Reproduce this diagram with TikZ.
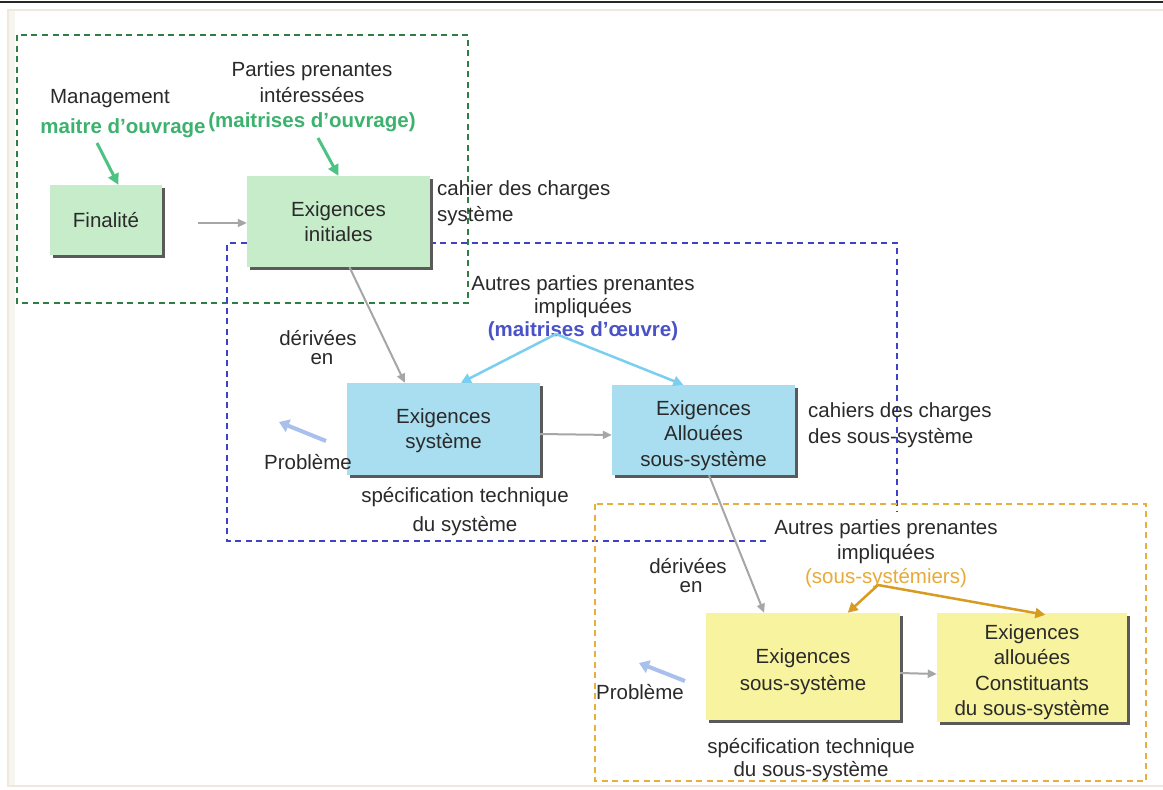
\documentclass[tikz,border=0pt]{standalone}
\usepackage{fontspec}
\setmainfont{Liberation Sans}
\usetikzlibrary{arrows.meta,calc,shadows}

\definecolor{framebeige}{HTML}{EEE9DC}
\definecolor{panelside}{HTML}{F7F5F0}
\definecolor{zonegreen}{HTML}{2F7F45}
\definecolor{zoneblue}{HTML}{3C44C4}
\definecolor{zoneyellow}{HTML}{E6B040}
\definecolor{txtgreen}{HTML}{3DB26E}
\definecolor{arrgreen}{HTML}{4CC283}
\definecolor{txtblue}{HTML}{4A52C8}
\definecolor{arrcyan}{HTML}{7ACFF0}
\definecolor{txtorange}{HTML}{E8AA38}
\definecolor{arrorange}{HTML}{D99A22}
\definecolor{fillgreen}{HTML}{C6ECCA}
\definecolor{fillblue}{HTML}{A8DEF0}
\definecolor{fillyellow}{HTML}{F8F39E}
\definecolor{arrgray}{HTML}{A6A6A6}
\definecolor{arrprob}{HTML}{A9BFEC}
\definecolor{txtdark}{HTML}{2A2A2A}
\definecolor{shadowgray}{HTML}{5A5A5A}

\newcommand\lblfont{\fontsize{20.5}{25.5}\selectfont}
% extra room above the first line of a box text
\newcommand\padtop[1]{\rule{0pt}{#1}}

\begin{document}
\begin{tikzpicture}[x=1pt,y=-1pt,
  reqbox/.style={inner sep=0pt, align=center, font=\lblfont, text=txtdark,
    drop shadow={shadow xshift=2.5pt, shadow yshift=-2.5pt, fill=shadowgray, opacity=1}},
  greenbox/.style={reqbox, fill=fillgreen},
  bluebox/.style={reqbox, fill=fillblue},
  yellowbox/.style={reqbox, fill=fillyellow},
  lbl/.style={inner sep=0pt, align=center, font=\lblfont, text=txtdark},
  zone/.style={line width=1.8pt, dash pattern=on 6pt off 4.5pt},
  flow/.style={draw=arrgray, line width=2pt, -{Triangle[length=9pt,width=8pt]}},
  ownerarrow/.style={draw=arrgreen, line width=3pt, -{Triangle[length=11pt,width=11pt]}},
  moearrow/.style={draw=arrcyan, line width=2.5pt, -{Triangle[length=10pt,width=10pt]}},
  subarrow/.style={draw=arrorange, line width=2.5pt, -{Triangle[length=10pt,width=10pt]}},
  probarrow/.style={draw=arrprob, line width=4pt, -{Triangle[length=10pt,width=13pt]}}
]
\useasboundingbox (0,0) rectangle (1163,790);
\fill[white] (0,0) rectangle (1163,790);

% page frame
\fill[panelside] (8,10) rectangle (15,786);
\draw[framebeige, line width=1.5pt] (1163,10) -- (8,10) -- (8,786) -- (1163,786);
\draw[black!85, line width=1.8pt] (0,2) -- (1163,2);

% scope zones
\draw[zone, zonegreen] (17,35) rectangle (468,303);
\draw[zone, zoneblue] (766,541) -- (227,541) -- (227,243) -- (897,243) -- (897,512);
\draw[zone, zoneyellow, line width=1.5pt] (595,504) rectangle (1146,781);

% requirement boxes
\node[greenbox, minimum width=112pt, minimum height=70pt] (fin) at (106,220) {Finalité};
\node[greenbox, minimum width=183pt, minimum height=91pt] (ini) at (338.5,221.5) {Exigences\\initiales};
\node[bluebox, minimum width=193pt, minimum height=92pt] (sys) at (443.5,429) {\padtop{18pt}Exigences\\système};
\node[bluebox, minimum width=183pt, minimum height=90pt] (alc) at (703.5,430) {\padtop{26pt}Exigences\\Allouées\\sous-système};
\node[yellowbox, minimum width=194pt, minimum height=107pt, font=\fontsize{20.5}{27}\selectfont] (ssys) at (803,666.5) {\padtop{25pt}Exigences\\sous-système};
\node[yellowbox, minimum width=190pt, minimum height=109pt] (cst) at (1032,667.5) {\padtop{24pt}Exigences\\allouées\\Constituants\\du sous-système};

% labels
\node[lbl] (mgmt) at (110,99) {Management};
\node[lbl, text=txtgreen, font=\lblfont\bfseries] (moa) at (123,128) {maitre d’ouvrage};
\node[lbl] (ppi) at (312,97) {Parties prenantes\\intéressées\\\textcolor{txtgreen}{\bfseries (maitrises d’ouvrage)}};
\node[lbl, align=left, anchor=west] (cdc) at (437,203) {cahier des charges\\système};
\node[lbl, font=\fontsize{20.5}{23}\selectfont] (app1) at (583,308) {Autres parties prenantes\\impliquées\\\textcolor{txtblue}{\bfseries (maitrises d’œuvre)}};
\node[lbl, anchor=base] (der1a) at (318,345) {dérivées};
\node[lbl, anchor=base] (der1b) at (322,364.5) {en};
\node[lbl] (prob1) at (308,462) {Problème};
\node[lbl, font=\fontsize{20.5}{29}\selectfont] (spec1) at (465,512) {spécification technique\\du système};
\node[lbl, align=left, anchor=west] (cdc2) at (808,425) {cahiers des charges\\des sous-système};
\node[lbl, font=\fontsize{20.5}{24.5}\selectfont] (app2) at (886,554) {Autres parties prenantes\\impliquées\\\textcolor{txtorange}{(sous-systémiers)}};
\node[lbl, anchor=base] (der2a) at (688,573) {dérivées};
\node[lbl, anchor=base] (der2b) at (691,592.5) {en};
\node[lbl] (prob2) at (640,692) {Problème};
\node[lbl, font=\fontsize{20.5}{23}\selectfont] (spec2) at (811,760) {spécification technique\\du sous-système};

% free ends of connectors
\coordinate (moatail) at (97,143);
\coordinate (ppitail) at (318,138);
\coordinate (fintail) at (198,223);
\coordinate (moeapex) at (556,334);
\coordinate (subapex) at (878,585);
\coordinate (prob1tail) at (326,441);
\coordinate (prob1head) at (279,422);
\coordinate (prob2tail) at (685,681);
\coordinate (prob2head) at (639,663);

% owner arrows
\draw[ownerarrow] (moatail) -- ($(fin.north west)!0.61!(fin.north east)$);
\draw[ownerarrow] (ppitail) -- (ini.north);

% derivation flow
\draw[flow] (fintail) -- ([yshift=-1.5pt]ini.west);
\draw[flow] ($(ini.south west)!0.56!(ini.south east)$) -- ($(sys.north west)!0.30!(sys.north east)$);
\draw[flow] ([yshift=-5pt]sys.east) -- ([yshift=-5pt]alc.west);
\draw[flow] ($(alc.south west)!0.53!(alc.south east)$) -- ($(ssys.north west)!0.30!(ssys.north east)$);
\draw[flow] ([yshift=-6.5pt]ssys.east) -- ([yshift=-6.5pt]cst.west);

% project-management arrows
\draw[moearrow] (moeapex) -- ($(sys.north west)!0.59!(sys.north east)$);
\draw[moearrow] (moeapex) -- ($(alc.north west)!0.39!(alc.north east)$);
\draw[subarrow] (subapex) -- ($(ssys.north west)!0.73!(ssys.north east)$);
\draw[subarrow] (subapex) -- ([yshift=-2pt]$(cst.north west)!0.57!(cst.north east)$);

% feedback arrows
\draw[probarrow] (prob1tail) -- (prob1head);
\draw[probarrow] (prob2tail) -- (prob2head);
\end{tikzpicture}
\end{document}
